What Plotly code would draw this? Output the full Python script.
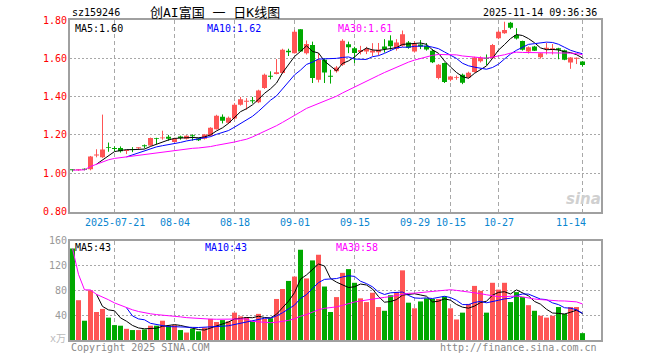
import plotly.graph_objects as go
import pandas as pd

# ---------------- data ----------------
dates = [
    "2025-07-10", "2025-07-11", "2025-07-14", "2025-07-15", "2025-07-16", "2025-07-17", "2025-07-18",
    "2025-07-21", "2025-07-22", "2025-07-23", "2025-07-24", "2025-07-25", "2025-07-28", "2025-07-29",
    "2025-07-30", "2025-07-31", "2025-08-01", "2025-08-04", "2025-08-05", "2025-08-06", "2025-08-07",
    "2025-08-08", "2025-08-11", "2025-08-12", "2025-08-13", "2025-08-14", "2025-08-15", "2025-08-18",
    "2025-08-19", "2025-08-20", "2025-08-21", "2025-08-22", "2025-08-25", "2025-08-26", "2025-08-27",
    "2025-08-28", "2025-08-29", "2025-09-01", "2025-09-02", "2025-09-03", "2025-09-04", "2025-09-05",
    "2025-09-08", "2025-09-09", "2025-09-10", "2025-09-11", "2025-09-12", "2025-09-15", "2025-09-16",
    "2025-09-17", "2025-09-18", "2025-09-19", "2025-09-22", "2025-09-23", "2025-09-24", "2025-09-25",
    "2025-09-26", "2025-09-29", "2025-09-30", "2025-10-09", "2025-10-10", "2025-10-13", "2025-10-14",
    "2025-10-15", "2025-10-16", "2025-10-17", "2025-10-20", "2025-10-21", "2025-10-22", "2025-10-23",
    "2025-10-24", "2025-10-27", "2025-10-28", "2025-10-29", "2025-10-30", "2025-10-31", "2025-11-03",
    "2025-11-04", "2025-11-05", "2025-11-06", "2025-11-07", "2025-11-10", "2025-11-11", "2025-11-12",
    "2025-11-13", "2025-11-14",
]

opens = [
    1.018, 1.015, 1.022, 1.020, 1.092, 1.083, 1.135, 1.130, 1.132, 1.116,
    1.126, 1.130, 1.145, 1.145, 1.182, 1.182, 1.190, 1.163, 1.192, 1.180,
    1.196, 1.181, 1.180, 1.196, 1.230, 1.295, 1.264, 1.285, 1.358, 1.373,
    1.381, 1.370, 1.445, 1.508, 1.518, 1.523, 1.640, 1.627, 1.752, 1.627,
    1.670, 1.488, 1.592, 1.508, 1.532, 1.566, 1.674, 1.653, 1.633, 1.635,
    1.630, 1.632, 1.662, 1.693, 1.648, 1.665, 1.682, 1.635, 1.672, 1.664,
    1.640, 1.497, 1.575, 1.488, 1.498, 1.514, 1.500, 1.528, 1.585, 1.602,
    1.600, 1.705, 1.731, 1.785, 1.722, 1.690, 1.635, 1.662, 1.605, 1.648,
    1.645, 1.652, 1.642, 1.578, 1.598, 1.583,
]
highs = [
    1.020, 1.022, 1.025, 1.090, 1.125, 1.306, 1.160, 1.140, 1.140, 1.122,
    1.136, 1.135, 1.150, 1.186, 1.185, 1.222, 1.200, 1.185, 1.196, 1.198,
    1.203, 1.185, 1.205, 1.240, 1.305, 1.307, 1.296, 1.366, 1.398, 1.392,
    1.398, 1.436, 1.520, 1.532, 1.596, 1.650, 1.650, 1.748, 1.752, 1.693,
    1.687, 1.627, 1.600, 1.540, 1.560, 1.700, 1.687, 1.660, 1.665, 1.660,
    1.679, 1.680, 1.700, 1.720, 1.700, 1.745, 1.690, 1.690, 1.695, 1.680,
    1.648, 1.570, 1.578, 1.508, 1.510, 1.520, 1.530, 1.608, 1.610, 1.620,
    1.675, 1.745, 1.791, 1.790, 1.757, 1.692, 1.662, 1.665, 1.628, 1.680,
    1.675, 1.655, 1.645, 1.606, 1.604, 1.585,
]
lows = [
    1.008, 1.012, 1.015, 1.015, 1.083, 1.080, 1.112, 1.115, 1.108, 1.100,
    1.110, 1.125, 1.130, 1.143, 1.152, 1.175, 1.170, 1.160, 1.175, 1.176,
    1.170, 1.168, 1.176, 1.192, 1.228, 1.260, 1.258, 1.280, 1.353, 1.332,
    1.364, 1.366, 1.440, 1.490, 1.516, 1.520, 1.612, 1.625, 1.636, 1.620,
    1.471, 1.474, 1.471, 1.468, 1.525, 1.560, 1.627, 1.575, 1.620, 1.622,
    1.612, 1.615, 1.630, 1.645, 1.640, 1.660, 1.650, 1.630, 1.648, 1.640,
    1.575, 1.490, 1.471, 1.480, 1.488, 1.465, 1.495, 1.525, 1.578, 1.565,
    1.598, 1.700, 1.728, 1.752, 1.698, 1.640, 1.625, 1.638, 1.598, 1.620,
    1.620, 1.595, 1.590, 1.545, 1.570, 1.556,
]
closes = [
    1.016, 1.019, 1.018, 1.087, 1.095, 1.124, 1.131, 1.127, 1.115, 1.119,
    1.122, 1.133, 1.141, 1.184, 1.178, 1.186, 1.180, 1.180, 1.184, 1.196,
    1.193, 1.172, 1.202, 1.237, 1.300, 1.274, 1.289, 1.357, 1.386, 1.378,
    1.376, 1.432, 1.514, 1.504, 1.527, 1.644, 1.632, 1.739, 1.636, 1.675,
    1.497, 1.592, 1.526, 1.504, 1.552, 1.692, 1.658, 1.628, 1.643, 1.648,
    1.641, 1.645, 1.648, 1.663, 1.682, 1.725, 1.655, 1.676, 1.662, 1.646,
    1.580, 1.566, 1.476, 1.505, 1.502, 1.472, 1.524, 1.604, 1.603, 1.598,
    1.670, 1.739, 1.748, 1.760, 1.703, 1.645, 1.658, 1.640, 1.626, 1.655,
    1.652, 1.645, 1.592, 1.604, 1.602, 1.565,
]
volumes = [
    147, 64, 31, 80, 45, 50, 36, 24, 23, 18,
    16, 16, 17, 23, 23, 31, 23, 24, 16, 12,
    18, 14, 20, 34, 29, 32, 30, 44, 38, 37,
    30, 42, 34, 35, 66, 82, 95, 102, 145, 99,
    128, 137, 86, 45, 69, 108, 114, 92, 67, 61,
    76, 53, 47, 72, 77, 112, 60, 51, 62, 67,
    66, 66, 70, 51, 33, 44, 58, 87, 79, 44,
    92, 81, 92, 61, 77, 69, 56, 47, 39, 36,
    39, 53, 42, 53, 53, 11,
]

tick_dates = ["2025-07-21", "2025-08-04", "2025-08-18", "2025-09-01", "2025-09-15",
              "2025-09-29", "2025-10-15", "2025-10-27", "2025-11-14"]
tick_labels = ["2025-07-21", "08-04", "08-18", "09-01", "09-15", "09-29", "10-15", "10-27", "11-14"]
price_ticks = [0.8, 1.0, 1.2, 1.4, 1.6, 1.8]
vol_ticks = [40, 80, 120, 160]

code = "sz159246"
title = "创AI富国 一 日K线图"
timestamp = "2025-11-14 09:36:36"
price_ma_text = ["MA5:1.60", "MA10:1.62", "MA30:1.61"]
vol_ma_text = ["MA5:43", "MA10:43", "MA30:58"]

# ---------------- styles ----------------
RED = "#ff5555"
GREEN = "#00a800"
MONO = "DejaVu Sans Mono, Noto Sans CJK SC"
GRID = "#a8a8a8"
BORDER = "#a0a0a0"
W, H = 660, 360
L, R, T, B = 70, 59, 20, 20
PW, PH = W - L - R, H - T - B


def pxx(x):
    return (x - L) / PW


def pxy(y):
    return (H - B - y) / PH


n = len(dates)
idx = list(range(n))
up = [c >= o for o, c in zip(opens, closes)]
colors = [RED if u else GREEN for u in up]

s = pd.Series(closes)
ma5 = s.rolling(5).mean()
ma10 = s.rolling(10).mean()
ma30 = s.rolling(30, min_periods=1).mean()
v = pd.Series(volumes, dtype=float)
vma5 = v.rolling(5).mean()
vma10 = v.rolling(10).mean()
vma30 = v.rolling(30, min_periods=1).mean()

fig = go.Figure()

# wicks
for col, flag in ((RED, True), (GREEN, False)):
    wx, wy = [], []
    for i in idx:
        if up[i] == flag:
            wx += [i, i, None]
            wy += [lows[i], highs[i], None]
    fig.add_trace(go.Scatter(x=wx, y=wy, mode="lines", line=dict(color=col, width=1),
                             hoverinfo="skip", xaxis="x", yaxis="y"))

# bodies
body_base = [min(o, c) for o, c in zip(opens, closes)]
body_h = [max(abs(c - o), 0.005) for o, c in zip(opens, closes)]
fig.add_trace(go.Bar(x=idx, y=body_h, base=body_base, width=5 / 6,
                     marker=dict(color=colors, line=dict(width=0)), xaxis="x", yaxis="y"))

# price MAs
for ser, col in ((ma5, "#000000"), (ma10, "#0000ff"), (ma30, "#ff00ff")):
    fig.add_trace(go.Scatter(x=idx, y=ser, mode="lines", line=dict(color=col, width=1),
                             xaxis="x", yaxis="y", hoverinfo="skip"))

# volume
fig.add_trace(go.Bar(x=idx, y=volumes, width=5 / 6,
                     marker=dict(color=colors, line=dict(width=0)), xaxis="x2", yaxis="y2"))
for ser, col in ((vma5, "#000000"), (vma10, "#0000ff"), (vma30, "#ff00ff")):
    fig.add_trace(go.Scatter(x=idx, y=ser, mode="lines", line=dict(color=col, width=1),
                             xaxis="x2", yaxis="y2", hoverinfo="skip"))

tick_idx = [dates.index(d) for d in tick_dates]
xr = [-0.4167, -0.4167 + PW / 6]

main_bottom = pxy(211.5)
vol_top = pxy(240.5)

xcommon = dict(range=xr, tickvals=tick_idx, showticklabels=False, ticks="",
               showgrid=True, gridcolor=GRID, griddash="4px,3px", gridwidth=1,
               showline=True, mirror=True, linecolor=BORDER, linewidth=2, zeroline=False,
               fixedrange=True)

fig.update_layout(
    width=W, height=H,
    margin=dict(l=L, r=R, t=T, b=B, pad=0),
    paper_bgcolor="white", plot_bgcolor="white",
    showlegend=False, barmode="overlay", hovermode=False,
    font=dict(family=MONO, size=10, color="#000000"),
    xaxis=dict(domain=[0, 1], anchor="y", **xcommon),
    xaxis2=dict(domain=[0, 1], anchor="y2", **xcommon),
    yaxis=dict(domain=[main_bottom, 1], range=[0.8, 1.8], tickvals=price_ticks,
               ticktext=[f"{t:.2f}" for t in price_ticks], ticks="",
               tickfont=dict(color="#ff0000", size=10, family=MONO), ticklabelstandoff=-1,
               showgrid=True, gridcolor=GRID, griddash="2px,2px", gridwidth=1,
               showline=True, mirror=True, linecolor=BORDER, linewidth=2, zeroline=False,
               fixedrange=True),
    yaxis2=dict(domain=[0, vol_top], range=[0, 160], tickvals=vol_ticks,
                ticktext=[str(t) for t in vol_ticks], ticks="",
                tickfont=dict(color="#999999", size=10, family=MONO), ticklabelstandoff=-1,
                showgrid=True, gridcolor=GRID, griddash="2px,2px", gridwidth=1,
                showline=True, mirror=True, linecolor=BORDER, linewidth=2, zeroline=False,
                fixedrange=True),
)

ann = []


def text(x, y, s, color="#000000", size=10, xanchor="left", family=MONO, **kw):
    ann.append(dict(x=pxx(x), y=pxy(y), xref="paper", yref="paper", text=s, showarrow=False,
                    xanchor=xanchor, yanchor="middle", font=dict(color=color, size=size, family=family), **kw))


text(70, 12, code)
text(215, 12, title, size=13, xanchor="center")
text(599, 12, timestamp, xanchor="right")

text(73, 28, price_ma_text[0], "#000000")
text(205, 28, price_ma_text[1], "#0000ff")
text(336, 28, price_ma_text[2], "#ff00ff")

text(73, 247, vol_ma_text[0], "#000000")
text(203, 247, vol_ma_text[1], "#0000ff")
text(334, 247, vol_ma_text[2], "#ff00ff")

text(68, 338, "x万", "#bbbbbb", xanchor="right")
text(69, 347, "Copyright 2025 SINA.COM", "#888888")
text(599, 347, "http://finance.sina.com.cn", "#888888", xanchor="right")

ann.append(dict(x=pxx(583), y=pxy(199), xref="paper", yref="paper", text="<i><b>sina</b></i>",
                showarrow=False, xanchor="center", yanchor="middle",
                font=dict(color="#d0d0d0", size=15, family="DejaVu Sans")))

for k, (ti, lab) in enumerate(zip(tick_idx, tick_labels)):
    ann.append(dict(x=ti, y=pxy(222), xref="x", yref="paper", text=lab, showarrow=False,
                    xanchor="center", yanchor="middle", xshift=-12 if k == len(tick_idx) - 1 else 0,
                    font=dict(color="#0a86d0", size=10, family=MONO)))

fig.update_layout(annotations=ann)

fig.write_html("out.html", config={"displayModeBar": False, "staticPlot": True},
               post_script="document.body.style.margin='0';document.body.style.overflow='hidden';")
